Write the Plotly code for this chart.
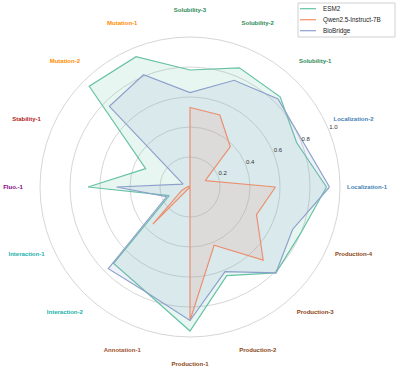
import plotly.graph_objects as go

# ---------------- data ----------------
categories = ["Localization-1", "Localization-2", "Solubility-1", "Solubility-2",
              "Solubility-3", "Mutation-1", "Mutation-2", "Stability-1",
              "Fluo.-1", "Interaction-1", "Interaction-2", "Annotation-1",
              "Production-1", "Production-2", "Production-3", "Production-4"]
label_colors = ["#4682b4", "#4682b4", "#2e8b57", "#2e8b57",
                "#2e8b57", "#ff8c00", "#ff8c00", "#b22222",
                "#800080", "#20b2aa", "#20b2aa", "#a0522d",
                "#8b4513", "#8b4513", "#8b4513", "#8b4513"]
esm2 = [0.91, 0.77, 0.85, 0.86, 0.78, 0.94, 0.95, 0.32,
        0.68, 0.15, 0.72, 0.76, 0.96, 0.64, 0.81, 0.80]
qwen = [0.57, 0.11, 0.38, 0.52, 0.53, 0.0, 0.0, 0.01,
        0.02, 0.06, 0.35, 0.0, 0.89, 0.42, 0.69, 0.48]
biobridge = [0.93, 0.81, 0.83, 0.77, 0.63, 0.81, 0.76, 0.05,
             0.49, 0.17, 0.77, 0.76, 0.89, 0.61, 0.81, 0.74]
series_names = ["ESM2", "Qwen2.5-Instruct-7B", "BioBridge"]
series_colors = ["#66c2a5", "#fc8d62", "#8da0cb"]
series_fills = ["rgba(102,194,165,0.15)", "rgba(252,141,98,0.15)", "rgba(141,160,203,0.15)"]
radial_ticks = [0.2, 0.4, 0.6, 0.8, 1.0]
radial_ticktext = ["0.2", "0.4", "0.6", "0.8", "1.0"]

W, H = 396, 371
FONT = "Liberation Sans, Arial, sans-serif"
LABEL_R = 1.18        # radius (data units) where category labels are centred
R_MAX = 1.2           # radial range extends past 1.0 to host the labels
TICK_LABEL_PAD = 0.035
TICK_LABEL_THETA = categories[1]   # radial tick labels sit along the 22.5 deg spoke
PX_PER_UNIT = 150
CX, CY = 190, 187

fig = go.Figure()
for name, vals, col, fc in zip(series_names, [esm2, qwen, biobridge], series_colors, series_fills):
    fig.add_trace(go.Scatterpolar(
        r=vals + vals[:1], theta=categories + categories[:1],
        mode="lines", name=name, line=dict(color=col, width=1.2),
        fill="toself", fillcolor=fc, showlegend=False, hoverinfo="skip"))

# category labels, centred at a fixed radius like matplotlib
fig.add_trace(go.Scatterpolar(
    r=[LABEL_R] * len(categories), theta=categories,
    mode="text", text=["<b>%s</b>" % c for c in categories],
    textfont=dict(color=label_colors, size=6, family=FONT),
    textposition="middle center", cliponaxis=False, showlegend=False, hoverinfo="skip"))

# radial tick labels
fig.add_trace(go.Scatterpolar(
    r=[v + TICK_LABEL_PAD for v in radial_ticks], theta=[TICK_LABEL_THETA] * len(radial_ticks),
    mode="text", text=radial_ticktext,
    textfont=dict(color="#333333", size=6, family=FONT),
    textposition="middle center", cliponaxis=False, showlegend=False, hoverinfo="skip"))

rad = R_MAX * PX_PER_UNIT
fig.update_layout(
    width=W, height=H, margin=dict(l=0, r=0, t=0, b=0),
    paper_bgcolor="white", plot_bgcolor="white",
    font=dict(family=FONT, size=6, color="#333333"),
    polar=dict(
        domain=dict(x=[(CX - rad) / W, (CX + rad) / W],
                    y=[(H - CY - rad) / H, (H - CY + rad) / H]),
        bgcolor="rgba(0,0,0,0)",
        radialaxis=dict(range=[0, R_MAX], tickvals=radial_ticks, ticktext=radial_ticktext,
                        showline=False, ticks="", gridcolor="#d6d6d6", gridwidth=1,
                        angle=22.5, showticklabels=False),
        angularaxis=dict(type="category", categoryarray=categories, rotation=0,
                         direction="counterclockwise", showgrid=False,
                         showline=False, showticklabels=False, ticks=""),
    ),
)

# legend (drawn as layout items)
lx0, lx1, ly0, ly1 = 298, 395, 3, 37
fig.add_shape(type="rect", xref="paper", yref="paper",
              x0=lx0 / W, x1=lx1 / W, y0=1 - ly1 / H, y1=1 - ly0 / H,
              line=dict(color="#d0d0d0", width=1), fillcolor="rgba(255,255,255,0.85)")
for i, (name, col) in enumerate(zip(series_names, series_colors)):
    yy = 8.7 + 11 * i
    fig.add_shape(type="line", xref="paper", yref="paper",
                  x0=300 / W, x1=316 / W, y0=1 - yy / H, y1=1 - yy / H,
                  line=dict(color=col, width=1.2))
    fig.add_annotation(x=321 / W, y=1 - yy / H, xref="paper", yref="paper",
                       text=name, showarrow=False, xanchor="left", yanchor="middle",
                       font=dict(size=6.3, color="#222222", family=FONT))

fig.write_html("out.html", config={"displayModeBar": False},
               post_script="document.body.style.margin='0px';")
